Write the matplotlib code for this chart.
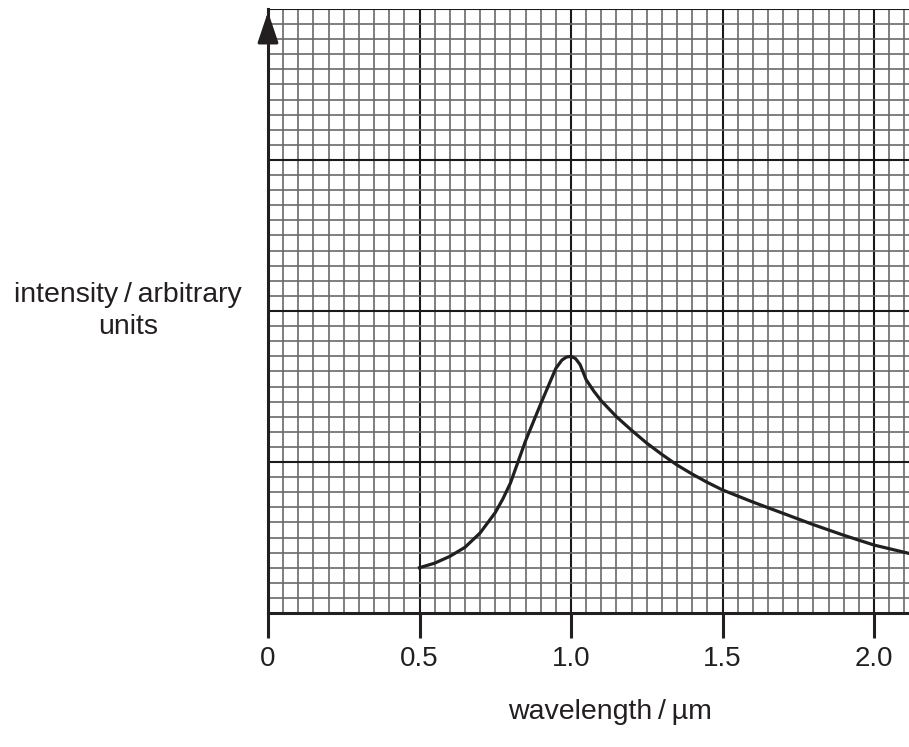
import numpy as np
import matplotlib
matplotlib.use("Agg")
import matplotlib.pyplot as plt

# Curve (wavelength in um, intensity in major grid units)
wavelength = [0.50, 0.55, 0.60, 0.65, 0.70, 0.75, 0.775, 0.80, 0.825, 0.85, 0.90, 0.95,
              0.97, 0.985, 1.00, 1.015, 1.03, 1.05, 1.075, 1.10, 1.15, 1.20, 1.25,
              1.30, 1.35, 1.40, 1.45, 1.50, 1.60, 1.70, 1.80, 1.90, 2.00, 2.115]
intensity = [0.30, 0.33, 0.375, 0.435, 0.53, 0.665, 0.755, 0.86, 1.00, 1.14, 1.385, 1.62,
             1.675, 1.695, 1.70, 1.685, 1.645, 1.545, 1.47, 1.405, 1.30, 1.21, 1.125,
             1.05, 0.98, 0.92, 0.865, 0.815, 0.735, 0.66, 0.585, 0.515, 0.45, 0.395]

x_ticks = [0, 0.5, 1.0, 1.5, 2.0]
x_tick_labels = ["0", "0.5", "1.0", "1.5", "2.0"]

plt.rcParams["font.family"] = ["Liberation Sans", "DejaVu Sans"]

W, H = 909, 747
fig = plt.figure(figsize=(W / 100, H / 100), dpi=100)
left, right, bottom, top = 268, 909, 613, 9
ax = fig.add_axes([left / W, 1 - bottom / H, (right - left) / W, (bottom - top) / H])

ax.set_xlim(0, (right - left) / 303)
ax.set_ylim(0, 4)

# graph paper
for v in np.arange(0.05, 2.12, 0.05):
    major = abs(v / 0.5 - round(v / 0.5)) < 1e-6
    ax.axvline(v, color="#1a1a1a" if major else "#6a6a6a", lw=1.5 if major else 1.2, zorder=1)
for v in np.arange(0.1, 4.01, 0.1):
    major = abs(v - round(v)) < 1e-6
    ax.axhline(v, color="#1a1a1a" if major else "#6a6a6a", lw=1.5 if major else 1.2, zorder=1)

ax.plot(wavelength, intensity, color="#231f20", lw=2.3, zorder=3, clip_on=False,
        solid_joinstyle="round")

for side in ["top", "right"]:
    ax.spines[side].set_visible(False)
ax.spines["left"].set_linewidth(2.2)
ax.spines["bottom"].set_linewidth(2.2)
ax.spines["left"].set_color("#231f20")
ax.spines["bottom"].set_color("#231f20")

ax.set_xticks(x_ticks)
ax.set_xticklabels(x_tick_labels, fontsize=20, color="#231f20")
ax.tick_params(axis="x", direction="out", length=18, width=2.2, color="#231f20", pad=6)
ax.set_yticks([])

# arrow head on the y axis
ax.annotate("", xy=(0, 1.0), xytext=(0, 0.95), xycoords="axes fraction",
            arrowprops=dict(arrowstyle="-|>,head_length=0.95,head_width=0.32",
                            color="#231f20", lw=2.2, mutation_scale=20),
            annotation_clip=False, zorder=5)

fig.text(128 / W, 1 - 311 / H, "intensity\u2009/\u2009arbitrary\nunits", fontsize=20.5,
         ha="center", va="center", multialignment="center", color="#231f20", linespacing=1.3)
fig.text(610 / W, 1 - 712 / H, "wavelength\u2009/\u2009\u00b5m", fontsize=20.5,
         ha="center", va="center", color="#231f20")

fig.savefig("out.png", dpi=100)
